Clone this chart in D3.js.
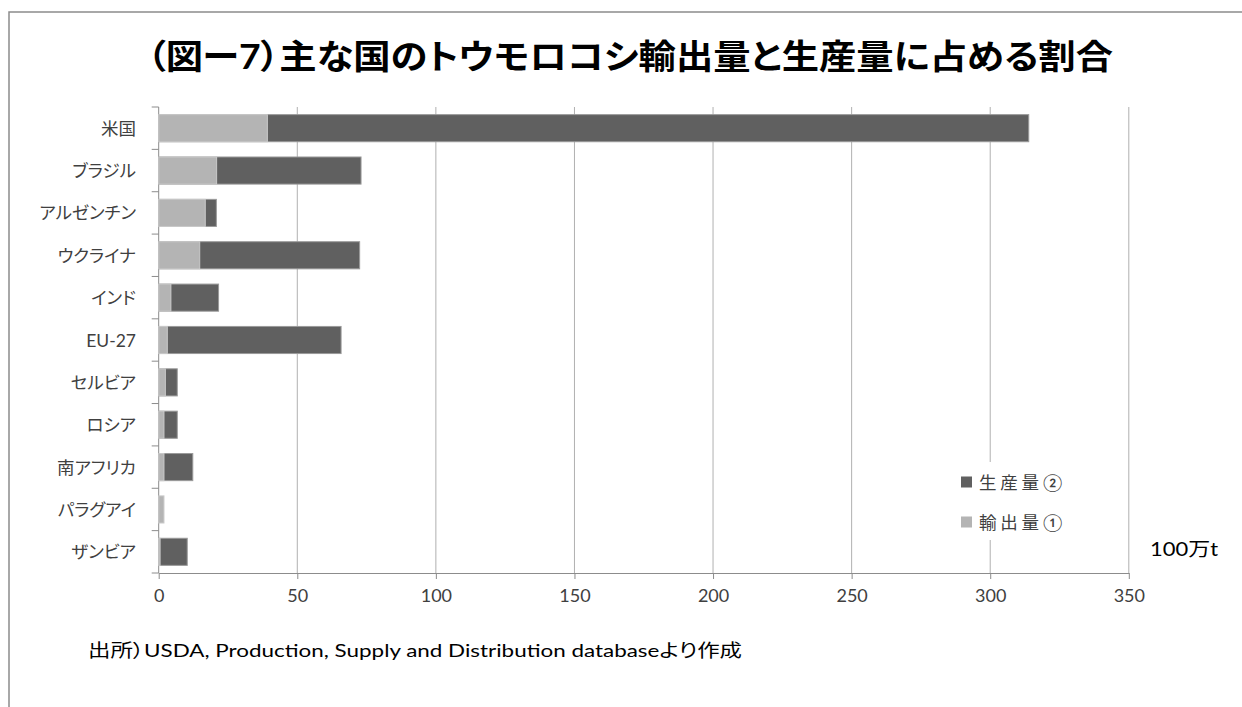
<!DOCTYPE html>
<html lang="ja">
<head>
<meta charset="utf-8">
<script src="https://cdn.jsdelivr.net/npm/d3@7/dist/d3.min.js"></script>
<style>
  html, body { margin: 0; padding: 0; background: #fff; }
  svg { display: block; }
  .cjk { font-family: Lato, "Noto Sans CJK JP", sans-serif; font-feature-settings: "palt"; }
</style>
</head>
<body>
<svg id="chart" width="1242" height="707"></svg>
<script>
// Countries, top to bottom
const categories = ["米国", "ブラジル", "アルゼンチン", "ウクライナ", "インド", "EU-27",
                    "セルビア", "ロシア", "南アフリカ", "パラグアイ", "ザンビア"];
// Exports (輸出量①), million tonnes
const exportsVal = [39.2, 20.9, 16.8, 14.8, 4.4, 3.1, 2.4, 1.9, 1.9, 1.9, 0.5];
// Production (生産量②), million tonnes
const production = [313.9, 73.0, 20.8, 72.5, 21.6, 65.8, 6.7, 6.7, 12.3, null, 10.3];
const xTicks = [0, 50, 100, 150, 200, 250, 300, 350];
const seriesNames = ["生産量②", "輸出量①"];

const TEXT = "#404040";
const DARK = "#606060";
const LIGHT = "#b4b4b4";
const GRID = "#b0b0b0";

const svg = d3.select("#chart");
const plot = { left: 158.7, right: 1128.8, top: 107, bottom: 573 };

const x = d3.scaleLinear().domain([0, 350]).range([plot.left, plot.right]);
const y = d3.scaleBand().domain(categories).range([plot.top, plot.bottom])
  .paddingInner(0.36).paddingOuter(0.18);

// outer frame (top and left edges)
svg.append("path")
  .attr("d", "M9,707 V12 H1242")
  .attr("fill", "none").attr("stroke", "#8c8c8c").attr("stroke-width", 1.5);

// title
svg.append("text")
  .attr("class", "cjk")
  .attr("x", 147).attr("y", 55)
  .attr("dominant-baseline", "central")
  .attr("font-size", 34).attr("font-weight", 700).attr("fill", "#000")
  .attr("textLength", 966).attr("lengthAdjust", "spacingAndGlyphs")
  .text("（図ー7）主な国のトウモロコシ輸出量と生産量に占める割合");

// vertical gridlines
svg.append("g").selectAll("line").data(xTicks.slice(1)).join("line")
  .attr("x1", d => x(d)).attr("x2", d => x(d))
  .attr("y1", plot.top).attr("y2", plot.bottom)
  .attr("stroke", GRID).attr("stroke-width", 1);

// x axis
const xAxis = svg.append("g")
  .attr("transform", `translate(0,${plot.bottom})`)
  .call(d3.axisBottom(x).tickValues(xTicks).tickSize(6).tickPadding(10).tickSizeOuter(0));
xAxis.select(".domain").attr("stroke", "#8c8c8c");
xAxis.selectAll(".tick line").attr("stroke", "#8c8c8c");
xAxis.selectAll(".tick text")
  .attr("fill", TEXT).attr("font-size", 18)
  .attr("font-family", "Lato, 'Open Sans', sans-serif");

// y axis: line with ticks on category boundaries
const yAxis = svg.append("g");
yAxis.append("line")
  .attr("x1", plot.left).attr("x2", plot.left)
  .attr("y1", plot.top).attr("y2", plot.bottom)
  .attr("stroke", "#8c8c8c");
const boundaries = d3.range(categories.length + 1).map(i => plot.top + i * y.step());
yAxis.selectAll(".yt").data(boundaries).join("line")
  .attr("x1", plot.left - 7).attr("x2", plot.left)
  .attr("y1", d => d).attr("y2", d => d)
  .attr("stroke", "#8c8c8c");
yAxis.selectAll(".cat").data(categories).join("text")
  .attr("class", "cjk")
  .attr("x", 136).attr("y", d => y(d) + y.bandwidth() / 2)
  .attr("text-anchor", "end").attr("dominant-baseline", "central")
  .attr("font-size", 17.5).attr("fill", TEXT)
  .text(d => d);

// production bars (behind), export bars (in front)
const rows = categories.map((c, i) => ({ c, exp: exportsVal[i], prod: production[i] }));
svg.append("g").selectAll("rect").data(rows.filter(d => d.prod != null)).join("rect")
  .attr("x", x(0)).attr("y", d => y(d.c))
  .attr("width", d => x(d.prod) - x(0)).attr("height", y.bandwidth())
  .attr("fill", DARK).attr("stroke", "#9a9a9a").attr("stroke-width", 1);
svg.append("g").selectAll("rect").data(rows).join("rect")
  .attr("x", x(0)).attr("y", d => y(d.c))
  .attr("width", d => x(d.exp) - x(0)).attr("height", y.bandwidth())
  .attr("fill", LIGHT).attr("stroke", "#cacaca").attr("stroke-width", 1);

// legend
const legend = svg.append("g");
legend.append("rect").attr("x", 950).attr("y", 462).attr("width", 120).attr("height", 78).attr("fill", "#fff");
const legendColors = [DARK, LIGHT];
seriesNames.forEach((name, i) => {
  const cy = 482 + i * 40;
  legend.append("rect").attr("x", 961).attr("y", cy - 5.5).attr("width", 11).attr("height", 11)
    .attr("fill", legendColors[i]);
  legend.append("text").attr("class", "cjk")
    .attr("x", 979).attr("y", cy).attr("dominant-baseline", "central")
    .attr("font-size", 17.5).attr("fill", TEXT)
    .attr("textLength", 83).attr("lengthAdjust", "spacing")
    .text(name);
});

// unit label
svg.append("text").attr("class", "cjk")
  .attr("x", 1150).attr("y", 548).attr("dominant-baseline", "central")
  .attr("font-size", 19).attr("fill", "#000")
  .attr("textLength", 68).attr("lengthAdjust", "spacingAndGlyphs")
  .text("100万t");

// source note
svg.append("text").attr("class", "cjk")
  .attr("x", 88).attr("y", 650).attr("dominant-baseline", "central")
  .attr("font-size", 18).attr("fill", "#000")
  .attr("textLength", 654).attr("lengthAdjust", "spacingAndGlyphs")
  .text("出所）USDA, Production, Supply and Distribution databaseより作成");
</script>
</body>
</html>
